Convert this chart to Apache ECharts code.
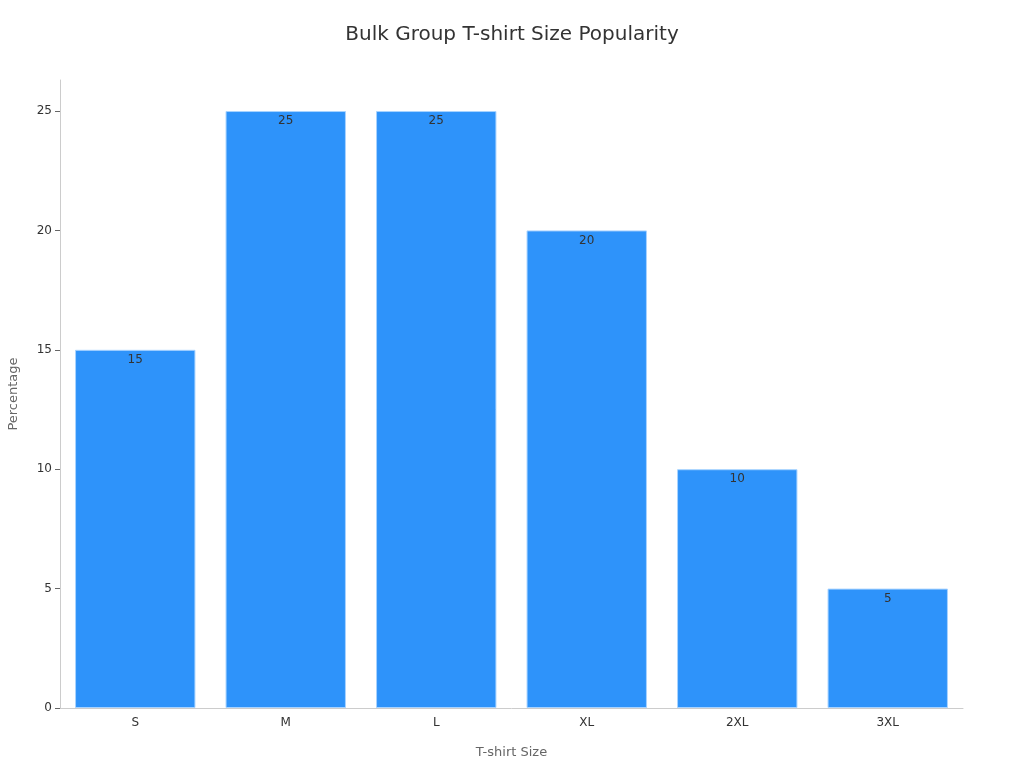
<!DOCTYPE html>
<html>
<head>
<meta charset="utf-8">
<script src="https://cdn.jsdelivr.net/npm/echarts@6/dist/echarts.min.js"></script>
<style>
  html, body { margin: 0; padding: 0; background: #fff; }
  #chart { width: 1024px; height: 768px; }
</style>
</head>
<body>
<div id="chart"></div>
<script>
// 尺码数据
var sizes = ["S", "M", "L", "XL", "2XL", "3XL"];
var percents = [15, 25, 25, 20, 10, 5];

var myChart = echarts.init(document.getElementById('chart'));
var option = {
    backgroundColor: '#ffffff',
    textStyle: { fontFamily: 'DejaVu Sans' },
    title: {
        text: 'Bulk Group T-shirt Size Popularity',
        left: 'center',
        top: 20,
        textStyle: {
            fontFamily: 'DejaVu Sans',
            fontSize: 20,
            fontWeight: 'normal',
            color: '#333'
        }
    },
    grid: {
        left: 60,
        right: 61,
        top: 80,
        bottom: 60,
        containLabel: false,
        outerBoundsMode: 'none'
    },
    xAxis: {
        type: 'category',
        data: sizes,
        name: 'T-shirt Size',
        nameLocation: 'middle',
        nameGap: 38,
        nameTextStyle: { color: '#666', fontSize: 13 },
        axisLine: { lineStyle: { color: '#ccc' } },
        axisTick: { alignWithLabel: true, lineStyle: { color: '#999' } },
        axisLabel: { color: '#333', fontSize: 12, margin: 9 }
    },
    yAxis: {
        type: 'value',
        min: 0,
        max: 26.3,
        interval: 5,
        name: 'Percentage',
        nameLocation: 'middle',
        nameGap: 40,
        nameTextStyle: { color: '#666', fontSize: 13 },
        axisLine: { show: true, lineStyle: { color: '#ccc' } },
        axisTick: { show: true, lineStyle: { color: '#666' } },
        axisLabel: {
            color: '#333',
            fontSize: 12,
            showMaxLabel: false
        },
        splitLine: { show: false }
    },
    series: [
        {
            name: 'Percentage',
            type: 'bar',
            data: percents,
            barWidth: '80%',
            itemStyle: {
                color: '#2E93FA',
                borderColor: '#a8d3ff',
                borderWidth: 1
            },
            label: {
                show: true,
                position: 'insideTop',
                distance: 4,
                color: '#333',
                fontSize: 12
            }
        }
    ]
};
option && myChart.setOption(option);
</script>
</body>
</html>
